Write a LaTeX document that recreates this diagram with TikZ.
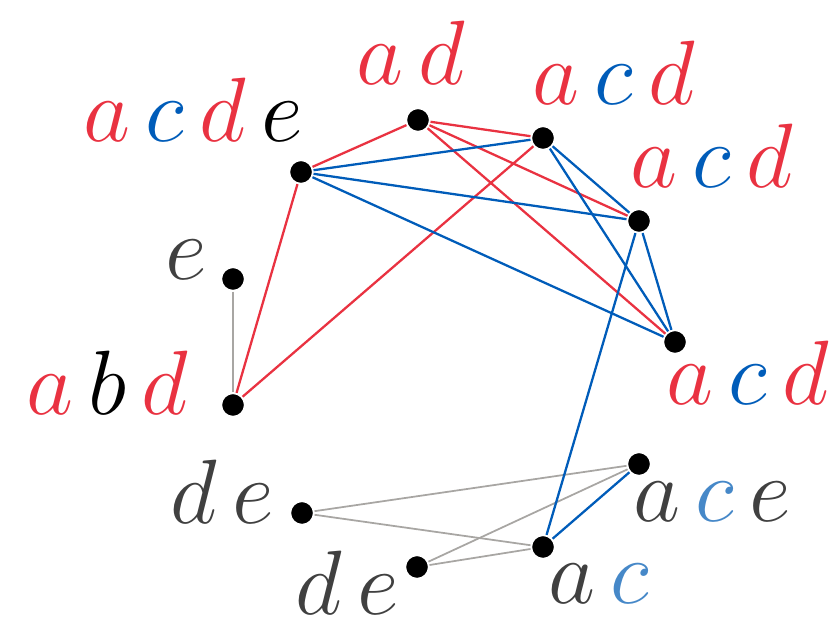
\RequirePackage{fix-cm}
\documentclass[tikz,border=0pt]{standalone}
\usepackage{amsmath,amssymb}
\usepackage{xcolor}
\usepackage{tikz}
\usetikzlibrary{positioning}

\definecolor{setred}{RGB}{233,50,65}
\definecolor{setblue}{RGB}{0,92,185}
\definecolor{lightblue}{RGB}{70,136,200}
\definecolor{darkgray}{RGB}{64,64,64}
\definecolor{edgegray}{RGB}{168,166,163}

% coloured letters for the set labels
\newcommand{\rl}[1]{\textcolor{setred}{#1}}
\newcommand{\bl}[1]{\textcolor{setblue}{#1}}
\newcommand{\lbl}[1]{\textcolor{lightblue}{#1}}
\newcommand{\gl}[1]{\textcolor{darkgray}{#1}}

\tikzset{
  vertex/.style={circle, fill=black, draw=white, line width=1pt, minimum size=0.47cm, inner sep=0pt},
  setlabel/.style={inner sep=0pt, font=\fontsize{52}{60}\selectfont},
  rededge/.style={setred, line width=1.3pt},
  blueedge/.style={setblue, line width=1.3pt},
  grayedge/.style={edgegray, line width=1pt}
}

\begin{document}
\begin{tikzpicture}[scale=1.0]
\useasboundingbox (0,0) rectangle (16.66,12.62);

% Vertices
\node[vertex] (acde) at (6.02, 9.18) {};
\node[vertex] (ad) at (8.36, 10.22) {};
\node[vertex] (acdA) at (10.86, 9.86) {};
\node[vertex] (acdB) at (12.78, 8.20) {};
\node[vertex] (acdC) at (13.50, 5.78) {};
\node[vertex] (e) at (4.66, 7.04) {};
\node[vertex] (abd) at (4.66, 4.52) {};
\node[vertex] (deA) at (6.04, 2.36) {};
\node[vertex] (deB) at (8.34, 1.28) {};
\node[vertex] (ac) at (10.86, 1.68) {};
\node[vertex] (ace) at (12.78, 3.34) {};

% Labels
\node[setlabel, anchor=base west] (lacde) at (1.66, 9.78) {$\rl{a}\,\bl{c}\,\rl{d}\,e$};
\node[setlabel, anchor=base west] (lad) at (7.12, 10.92) {$\rl{a}\,\rl{d}$};
\node[setlabel, anchor=base west] (lacdA) at (10.64, 10.52) {$\rl{a}\,\bl{c}\,\rl{d}$};
\node[setlabel, anchor=base west] (lacdB) at (12.60, 8.86) {$\rl{a}\,\bl{c}\,\rl{d}$};
\node[setlabel, anchor=base west] (lacdC) at (13.32, 4.52) {$\rl{a}\,\bl{c}\,\rl{d}$};
\node[setlabel, anchor=base east] (le) at (4.14, 7.02) {$\gl{e}$};
\node[setlabel, anchor=base west] (labd) at (0.52, 4.32) {$\rl{a}\,b\,\rl{d}$};
\node[setlabel, anchor=base west] (ldeA) at (3.40, 2.14) {$\gl{d}\,\gl{e}$};
\node[setlabel, anchor=base west] (ldeB) at (5.90, 0.32) {$\gl{d}\,\gl{e}$};
\node[setlabel, anchor=base west] (lac) at (10.96, 0.54) {$\gl{a}\,\lbl{c}$};
\node[setlabel, anchor=base west] (lace) at (12.66, 2.18) {$\gl{a}\,\lbl{c}\,\gl{e}$};

% Edges
\draw[grayedge] (e) -- (abd);
\draw[grayedge] (deA) -- (ace);
\draw[grayedge] (deA) -- (ac);
\draw[grayedge] (deB) -- (ace);
\draw[grayedge] (deB) -- (ac);

\draw[rededge] (acde) -- (ad);
\draw[rededge] (acde) -- (abd);
\draw[rededge] (ad) -- (acdA);
\draw[rededge] (ad) -- (acdB);
\draw[rededge] (ad) -- (acdC);
\draw[rededge] (acdA) -- (abd);

\draw[blueedge] (acde) -- (acdA);
\draw[blueedge] (acde) -- (acdB);
\draw[blueedge] (acde) -- (acdC);
\draw[blueedge] (acdA) -- (acdB);
\draw[blueedge] (acdA) -- (acdC);
\draw[blueedge] (acdB) -- (acdC);
\draw[blueedge] (acdB) -- (ac);
\draw[blueedge] (ac) -- (ace);

\end{tikzpicture}
\end{document}
